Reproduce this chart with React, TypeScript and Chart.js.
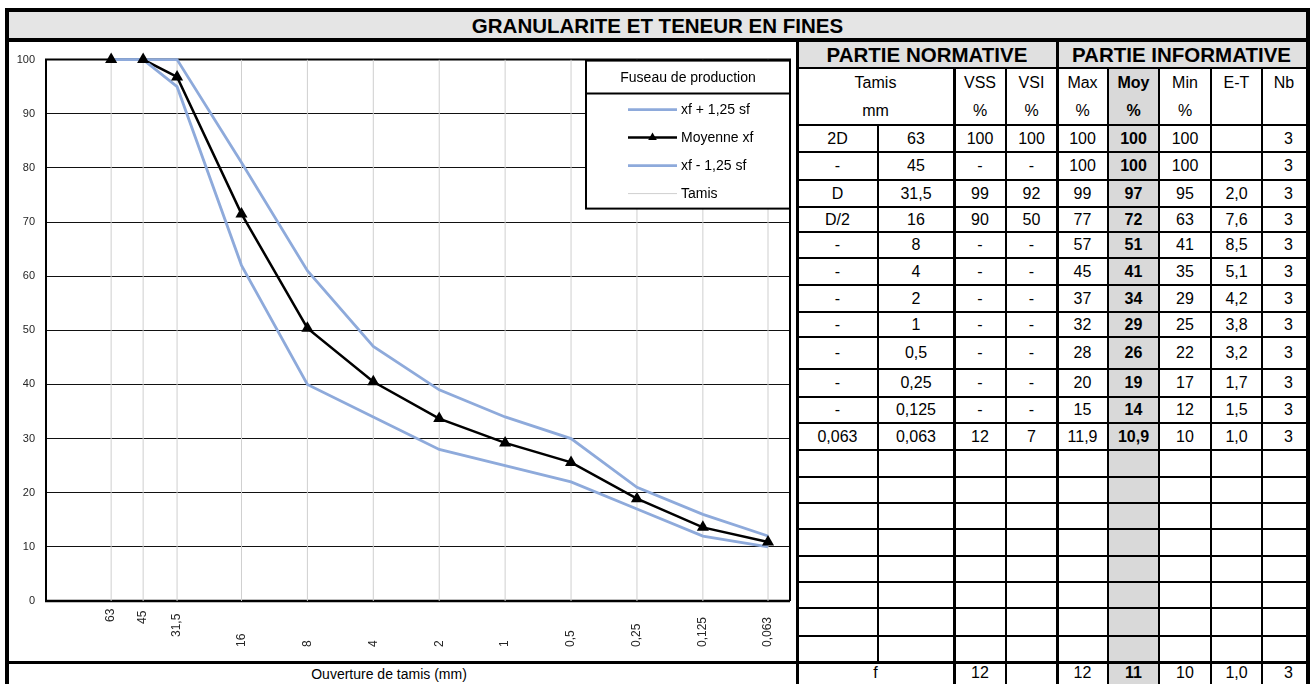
import React, { useEffect, useRef } from 'react';
import { Chart, registerables } from 'chart.js';

Chart.register(...registerables);

// ---------- chart data ----------
const sieves = [63, 45, 31.5, 16, 8, 4, 2, 1, 0.5, 0.25, 0.125, 0.063];
const sieveLabels = ['63', '45', '31,5', '16', '8', '4', '2', '1', '0,5', '0,25', '0,125', '0,063'];
const upperValues = [100, 100, 100, 81, 61, 47, 39, 34, 30, 21, 16, 12];
const meanValues = [100, 100, 96.8, 71.5, 50.4, 40.5, 33.7, 29.2, 25.6, 18.9, 13.6, 10.9];
const lowerValues = [100, 100, 95, 62, 40, 34, 28, 25, 22, 17, 12, 10];
const yMin = 0;
const yMax = 100;
const yStep = 10;

// ---------- table data ----------
const rowSpecs = ['2D', '-', 'D', 'D/2', '-', '-', '-', '-', '-', '-', '-', '0,063'];
const tamisValues = ['63', '45', '31,5', '16', '8', '4', '2', '1', '0,5', '0,25', '0,125', '0,063'];
const vssValues = ['100', '-', '99', '90', '-', '-', '-', '-', '-', '-', '-', '12'];
const vsiValues = ['100', '-', '92', '50', '-', '-', '-', '-', '-', '-', '-', '7'];
const maxValues = ['100', '100', '99', '77', '57', '45', '37', '32', '28', '20', '15', '11,9'];
const moyValues = ['100', '100', '97', '72', '51', '41', '34', '29', '26', '19', '14', '10,9'];
const minValues = ['100', '100', '95', '63', '41', '35', '29', '25', '22', '17', '12', '10'];
const etValues = ['', '', '2,0', '7,6', '8,5', '5,1', '4,2', '3,8', '3,2', '1,7', '1,5', '1,0'];
const nbValues = ['3', '3', '3', '3', '3', '3', '3', '3', '3', '3', '3', '3'];
const footerValues = ['f', '12', '', '12', '11', '10', '1,0', '3'];

const FONT = '"Liberation Sans", Arial, sans-serif';
const BLUE = '#8eaadb';

// ---------- layout (page coords) ----------
const colX = [797, 878, 954, 1006, 1057, 1108, 1159, 1211, 1262, 1306];
const rowY = [125, 152, 180, 207, 232, 258, 285, 312, 337, 369, 397, 423, 450, 477, 503, 529, 556, 582, 608, 636, 662];

const framePlugin = {
  id: 'frameDecor',
  beforeDatasetsDraw(chart: any) {
    const { ctx, chartArea: a } = chart;
    ctx.save();
    ctx.strokeStyle = '#000';
    ctx.lineWidth = 2;
    ctx.beginPath();
    ctx.moveTo(a.left, a.top);
    ctx.lineTo(a.right, a.top);
    ctx.lineTo(a.right, a.bottom);
    ctx.moveTo(a.left, a.top - 1);
    ctx.lineTo(a.left, a.bottom);
    ctx.stroke();
    ctx.lineWidth = 2.5;
    ctx.beginPath();
    ctx.moveTo(a.left - 1, a.bottom);
    ctx.lineTo(a.right, a.bottom);
    ctx.stroke();
    ctx.restore();
  },
  afterDraw(chart: any, _args: any, opts: any) {
    const { ctx, chartArea: a } = chart;
    const xs = chart.scales.x;
    ctx.save();
    ctx.font = '12px ' + FONT;
    ctx.fillStyle = '#262626';
    ctx.textAlign = 'left';
    ctx.textBaseline = 'middle';
    sieves.forEach((s, i) => {
      const px = xs.getPixelForValue(s);
      ctx.save();
      ctx.translate(px, a.bottom + opts.shifts[i]);
      ctx.rotate(-Math.PI / 2);
      ctx.fillText(sieveLabels[i], 0, 0);
      ctx.restore();
    });
    ctx.restore();
  },
};

const boxLegendPlugin = {
  id: 'boxLegend',
  afterDatasetsDraw(chart: any, _args: any, opts: any) {
    const { ctx, chartArea: a } = chart;
    const w = opts.width;
    const h = opts.height;
    const L = a.right - w;
    const T = a.top + opts.offsetTop;
    ctx.save();
    ctx.fillStyle = '#fff';
    ctx.fillRect(L, T, w, h);
    ctx.strokeStyle = '#000';
    ctx.lineWidth = 2;
    ctx.strokeRect(L, T, w, h);
    ctx.beginPath();
    ctx.moveTo(L, T + opts.headerHeight);
    ctx.lineTo(L + w, T + opts.headerHeight);
    ctx.stroke();
    ctx.font = '14px ' + FONT;
    ctx.fillStyle = '#000';
    ctx.textAlign = 'center';
    ctx.textBaseline = 'middle';
    ctx.fillText(opts.title, L + w / 2, T + opts.headerHeight / 2 + 1);
    ctx.textAlign = 'left';
    opts.order.forEach((label: string, i: number) => {
      const ds = chart.data.datasets.find((d: any) => d.label === label);
      if (!ds) return;
      const y = T + opts.headerHeight + opts.firstItem + i * opts.itemGap;
      const x1 = L + opts.sampleStart;
      const x2 = L + opts.sampleEnd;
      ctx.strokeStyle = ds.borderColor;
      ctx.lineWidth = ds.borderWidth;
      ctx.beginPath();
      ctx.moveTo(x1, y);
      ctx.lineTo(x2, y);
      ctx.stroke();
      if (ds.pointStyle === 'triangle' && ds.pointRadius > 0) {
        const cx = (x1 + x2) / 2;
        const r = 5;
        ctx.fillStyle = ds.pointBackgroundColor;
        ctx.beginPath();
        ctx.moveTo(cx, y - r);
        ctx.lineTo(cx + r * 0.866, y + r * 0.5);
        ctx.lineTo(cx - r * 0.866, y + r * 0.5);
        ctx.closePath();
        ctx.fill();
      }
      ctx.fillStyle = '#000';
      ctx.fillText(label, L + opts.textStart, y + 1);
    });
    ctx.restore();
  },
};

function GranuloChart() {
  const ref = useRef<HTMLCanvasElement | null>(null);
  useEffect(() => {
    if (!ref.current) return;
    const pts = (vals: number[]) => sieves.map((s, i) => ({ x: s, y: vals[i] }));
    const tamisPts: any[] = [];
    sieves.forEach((s) => {
      tamisPts.push({ x: s, y: yMin });
      tamisPts.push({ x: s, y: yMax });
      tamisPts.push({ x: s, y: null });
    });
    const chart = new Chart(ref.current, {
      type: 'line',
      data: {
        datasets: [
          {
            // markers of the mean curve (drawn on top)
            label: 'Moyenne xf',
            data: pts(meanValues),
            showLine: false,
            borderColor: '#000',
            backgroundColor: '#000',
            borderWidth: 2.5,
            pointStyle: 'triangle',
            pointRadius: 7,
            pointBackgroundColor: '#000',
            pointBorderColor: '#000',
            pointBorderWidth: 0,
            clip: false,
          } as any,
          {
            label: 'xf + 1,25 sf',
            data: pts(upperValues),
            borderColor: BLUE,
            borderWidth: 2.8,
            pointRadius: 0,
            tension: 0,
            clip: false,
          },
          {
            label: 'xf - 1,25 sf',
            data: pts(lowerValues),
            borderColor: BLUE,
            borderWidth: 2.8,
            pointRadius: 0,
            tension: 0,
            clip: false,
          },
          {
            // line of the mean curve (under the envelope lines)
            label: 'Moyenne xf (ligne)',
            data: pts(meanValues),
            borderColor: '#000',
            borderWidth: 2.5,
            pointRadius: 0,
            tension: 0,
            clip: false,
          },
          {
            label: 'Tamis',
            data: tamisPts,
            borderColor: '#cfcfcf',
            borderWidth: 1,
            pointRadius: 0,
            spanGaps: false,
            tension: 0,
          },
        ],
      },
      options: {
        animation: false,
        responsive: false,
        maintainAspectRatio: false,
        devicePixelRatio: 1,
        events: [],
        layout: { padding: { top: 10, right: 7, bottom: 61, left: 0 } },
        scales: {
          x: {
            type: 'logarithmic',
            reverse: true,
            min: 0.05,
            max: 125,
            display: false,
          },
          y: {
            min: yMin,
            max: yMax,
            afterFit: (s: any) => {
              s.width = 37;
            },
            ticks: {
              stepSize: yStep,
              padding: 11,
              color: '#262626',
              font: { family: FONT, size: 11 },
            },
            border: { display: false },
            grid: {
              drawTicks: false,
              lineWidth: 1,
              color: (c: any) =>
                c.tick && (c.tick.value === yMin || c.tick.value === yMax) ? 'rgba(0,0,0,0)' : '#111',
            },
          },
        },
        plugins: {
          legend: { display: false },
          tooltip: { enabled: false },
          frameDecor: { shifts: [21, 23, 36, 46, 46, 46, 46, 46, 46, 46, 46, 46] },
          boxLegend: {
            title: 'Fuseau de production',
            order: ['xf + 1,25 sf', 'Moyenne xf', 'xf - 1,25 sf', 'Tamis'],
            width: 204,
            height: 148,
            offsetTop: 1,
            headerHeight: 33,
            firstItem: 16,
            itemGap: 28,
            sampleStart: 42,
            sampleEnd: 91,
            textStart: 95,
          },
        } as any,
      },
      plugins: [framePlugin, boxLegendPlugin],
    } as any);
    return () => chart.destroy();
  }, []);
  return (
    <canvas
      ref={ref}
      width={788}
      height={620}
      style={{ position: 'absolute', left: 9, top: 42, width: 788, height: 620 }}
    />
  );
}

function Cell(props: {
  x1: number;
  x2: number;
  y1: number;
  y2: number;
  text: string;
  bold?: boolean;
  size?: number;
  align?: 'center' | 'right';
}) {
  const { x1, x2, y1, y2, text, bold, size, align } = props;
  return (
    <div
      style={{
        position: 'absolute',
        left: x1,
        top: y1,
        width: x2 - x1,
        height: y2 - y1,
        display: 'flex',
        alignItems: 'center',
        justifyContent: align === 'right' ? 'flex-end' : 'center',
        paddingRight: align === 'right' ? 13 : 0,
        boxSizing: 'border-box',
        fontSize: size || 16,
        fontWeight: bold ? 'bold' : 'normal',
        whiteSpace: 'nowrap',
        color: '#000',
      }}
    >
      {text}
    </div>
  );
}

function HLine(props: { x1: number; x2: number; y: number; w: number }) {
  const { x1, x2, y, w } = props;
  return (
    <div style={{ position: 'absolute', left: x1, top: y - w / 2, width: x2 - x1, height: w, background: '#000' }} />
  );
}
function VLine(props: { x: number; y1: number; y2: number; w: number }) {
  const { x, y1, y2, w } = props;
  return (
    <div style={{ position: 'absolute', left: x - w / 2, top: y1, width: w, height: y2 - y1, background: '#000' }} />
  );
}

export default function App() {
  const dataCols = [rowSpecs, tamisValues, vssValues, vsiValues, maxValues, moyValues, minValues, etValues, nbValues];
  const cells: any[] = [];
  rowSpecs.forEach((_r, i) => {
    dataCols.forEach((col, c) => {
      cells.push(
        <Cell
          key={`d${i}-${c}`}
          x1={colX[c]}
          x2={colX[c + 1]}
          y1={rowY[i]}
          y2={rowY[i + 1]}
          text={col[i]}
          bold={c === 5}
          align={c === 8 ? 'right' : 'center'}
        />
      );
    });
  });
  const headTop = ['VSS', 'VSI', 'Max', 'Moy', 'Min', 'E-T', 'Nb'];
  const headBottom = ['%', '%', '%', '%', '%', '', ''];
  const footY1 = 662;
  const footY2 = 690;
  const footCols = [
    [colX[0], colX[2]],
    [colX[2], colX[3]],
    [colX[3], colX[4]],
    [colX[4], colX[5]],
    [colX[5], colX[6]],
    [colX[6], colX[7]],
    [colX[7], colX[8]],
    [colX[8], colX[9]],
  ];
  const thinV = [1, 3, 5, 6, 7, 8];

  return (
    <div
      style={{
        position: 'fixed',
        left: 0,
        top: 0,
        width: 1314,
        height: 684,
        background: '#fff',
        overflow: 'hidden',
        fontFamily: FONT,
      }}
    >
      {/* title band */}
      <div
        style={{
          position: 'absolute',
          left: 9,
          top: 12,
          width: 1297,
          height: 27,
          background: '#e5e5e5',
          display: 'flex',
          alignItems: 'center',
          justifyContent: 'center',
          fontWeight: 'bold',
          fontSize: 20.5,
          color: '#000',
        }}
      >
        GRANULARITE ET TENEUR EN FINES
      </div>
      {/* PARTIE row */}
      <div style={{ position: 'absolute', left: colX[0], top: 42, width: colX[9] - colX[0], height: 26, background: '#e0e0e0' }} />
      {/* Moy column fill */}
      <div style={{ position: 'absolute', left: colX[5], top: 68, width: colX[6] - colX[5], height: 630, background: '#d9d9d9' }} />

      <GranuloChart />

      <Cell x1={colX[0]} x2={colX[4]} y1={42} y2={68} text="PARTIE NORMATIVE" bold size={20.5} />
      <Cell x1={colX[4]} x2={colX[9]} y1={42} y2={68} text="PARTIE INFORMATIVE" bold size={20.5} />

      <Cell x1={colX[0]} x2={colX[2]} y1={69} y2={97} text="Tamis" />
      <Cell x1={colX[0]} x2={colX[2]} y1={97} y2={125} text="mm" />
      {headTop.map((t, i) => (
        <Cell key={`ht${i}`} x1={colX[i + 2]} x2={colX[i + 3]} y1={69} y2={97} text={t} bold={i === 3} />
      ))}
      {headBottom.map((t, i) => (
        <Cell key={`hb${i}`} x1={colX[i + 2]} x2={colX[i + 3]} y1={97} y2={125} text={t} bold={i === 3} />
      ))}
      {cells}
      {footerValues.map((t, i) => (
        <Cell
          key={`f${i}`}
          x1={footCols[i][0]}
          x2={footCols[i][1]}
          y1={footY1}
          y2={footY2 - 6}
          text={t}
          bold={i === 4}
          align={i === 7 ? 'right' : 'center'}
        />
      ))}
      <div
        style={{
          position: 'absolute',
          left: 9,
          top: 663,
          width: 760,
          height: 22,
          display: 'flex',
          alignItems: 'center',
          justifyContent: 'center',
          fontSize: 14,
          color: '#000',
        }}
      >
        Ouverture de tamis (mm)
      </div>

      {/* table lines */}
      <HLine x1={colX[0]} x2={colX[9]} y={68} w={2} />
      {rowY.slice(0, rowY.length - 1).map((y, i) => (
        <HLine key={`hl${i}`} x1={colX[0]} x2={colX[9]} y={y} w={i === 0 ? 2 : 1.5} />
      ))}
      {thinV.map((c) => (
        <VLine key={`vl${c}`} x={colX[c]} y1={c === 1 ? 125 : 68} y2={c === 1 ? 662 : 690} w={1.5} />
      ))}
      <VLine x={colX[2]} y1={68} y2={690} w={3} />
      <VLine x={colX[4]} y1={40} y2={690} w={3} />
      <VLine x={colX[0]} y1={40} y2={690} w={3} />

      {/* heavy frame lines */}
      <HLine x1={5} x2={1310} y={662.5} w={3} />
      <HLine x1={5} x2={1310} y={40} w={4} />
      <div
        style={{
          position: 'absolute',
          left: 5,
          top: 8,
          width: 1305,
          height: 700,
          border: '4px solid #000',
          boxSizing: 'border-box',
        }}
      />
    </div>
  );
}
